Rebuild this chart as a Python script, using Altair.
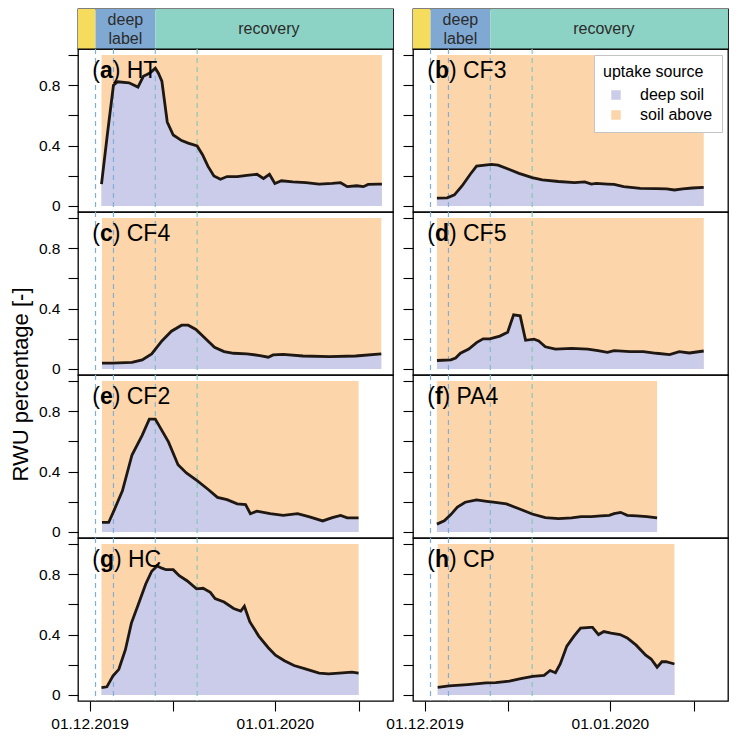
import altair as alt
import pandas as pd

FONT = "Liberation Sans"

# ---------------- data (days since 01.12.2019) ----------------
panel_letters = ["a", "b", "c", "d", "e", "f", "g", "h"]
panel_names = ["HT", "CF3", "CF4", "CF5", "CF2", "PA4", "HC", "CP"]

ht_day = [2.0, 3.0, 4.0, 4.7, 6.6, 8.1, 9.0, 10.1, 11.0, 11.5, 12.1, 13.0, 14.0, 15.4, 16.5,
          18.0, 18.9, 19.8, 20.8, 21.9, 23.0, 24.7, 26.3, 28.0, 29.1, 30.1, 31.0, 32.1, 34.0,
          36.2, 38.4, 40.6, 42.0, 43.1, 44.7, 45.8, 46.6, 48.3, 48.9]
ht_val = [0.145, 0.48, 0.80, 0.823, 0.816, 0.788, 0.859, 0.881, 0.913, 0.881, 0.827, 0.556,
          0.47, 0.433, 0.416, 0.398, 0.34, 0.264, 0.199, 0.177, 0.195, 0.195, 0.203, 0.21,
          0.182, 0.21, 0.149, 0.167, 0.16, 0.154, 0.145, 0.149, 0.154, 0.128, 0.134, 0.128,
          0.143, 0.145, 0.145]

cf3_day = [2.07, 3.8, 5.0, 6.3, 7.65, 8.7, 11.2, 12.3, 14.2, 15.8, 18.0, 19.7, 22.4, 25.1,
           26.8, 27.9, 28.7, 30.6, 31.7, 33.3, 36.1, 38.8, 40.5, 41.8, 43.2, 44.8, 46.7]
cf3_val = [0.052, 0.054, 0.074, 0.134, 0.21, 0.264, 0.275, 0.27, 0.242, 0.216, 0.188, 0.173,
           0.162, 0.154, 0.16, 0.145, 0.149, 0.145, 0.143, 0.128, 0.117, 0.115, 0.113, 0.106,
           0.113, 0.119, 0.123]

cf4_day = [2.08, 3.8, 7.1, 8.8, 10.4, 12.1, 13.7, 15.4, 16.5, 17.8, 19.2, 20.9, 22.5, 24.1,
           26.3, 28.5, 29.9, 30.7, 32.4, 35.7, 40.1, 44.5, 48.8]
cf4_val = [0.039, 0.039, 0.043, 0.06, 0.10, 0.186, 0.25, 0.29, 0.29, 0.262, 0.208, 0.143,
           0.115, 0.104, 0.10, 0.089, 0.078, 0.093, 0.097, 0.086, 0.082, 0.086, 0.10]

cf5_day = [2.08, 4.4, 5.2, 6.0, 7.4, 8.7, 9.8, 10.9, 12.6, 13.9, 14.9, 16.0, 16.9, 18.3, 19.1,
           20.2, 21.9, 24.6, 27.3, 29.0, 30.6, 31.7, 34.4, 36.6, 38.8, 41.0, 42.6, 44.3, 46.7]
cf5_val = [0.056, 0.06, 0.073, 0.104, 0.132, 0.175, 0.20, 0.20, 0.218, 0.244, 0.359, 0.352,
           0.19, 0.197, 0.186, 0.147, 0.132, 0.136, 0.132, 0.121, 0.11, 0.121, 0.115, 0.115,
           0.104, 0.095, 0.115, 0.106, 0.119]

cf2_day = [2.08, 3.2, 4.1, 5.5, 7.1, 8.8, 10.0, 11.0, 13.2, 14.8, 16.2, 18.1, 19.8, 21.4, 23.0,
           24.7, 26.1, 26.9, 28.0, 30.2, 32.4, 34.8, 36.8, 39.0, 40.6, 42.0, 43.1, 45.0]
cf2_val = [0.063, 0.063, 0.143, 0.272, 0.51, 0.64, 0.748, 0.748, 0.597, 0.445, 0.391, 0.337,
           0.283, 0.229, 0.214, 0.186, 0.182, 0.121, 0.138, 0.121, 0.11, 0.121, 0.10, 0.073,
           0.095, 0.11, 0.093, 0.093]

pa4_day = [2.07, 3.3, 4.4, 5.5, 6.8, 8.7, 10.4, 11.5, 13.7, 15.8, 18.0, 20.2, 22.4, 24.6, 26.2,
           27.9, 29.5, 30.9, 31.7, 32.8, 33.9, 35.5, 37.2, 38.9]
pa4_val = [0.052, 0.074, 0.115, 0.165, 0.197, 0.212, 0.203, 0.197, 0.186, 0.154, 0.119, 0.095,
           0.089, 0.093, 0.102, 0.102, 0.106, 0.11, 0.121, 0.13, 0.11, 0.106, 0.102, 0.093]

hc_day = [2.0, 2.9, 3.9, 4.9, 6.0, 7.0, 8.2, 9.4, 10.4, 11.3, 12.1, 12.8, 14.0, 15.0, 16.3,
          17.9, 19.0, 20.2, 21.0, 22.5, 24.1, 25.3, 25.9, 26.8, 28.3, 29.9, 31.1, 32.6, 34.2,
          36.1, 38.4, 40.0, 42.3, 43.9, 45.0]
hc_val = [0.048, 0.054, 0.125, 0.17, 0.30, 0.476, 0.605, 0.735, 0.82, 0.855, 0.84, 0.83, 0.83,
          0.79, 0.757, 0.703, 0.707, 0.68, 0.638, 0.616, 0.573, 0.556, 0.588, 0.486, 0.39,
          0.313, 0.264, 0.227, 0.195, 0.173, 0.145, 0.14, 0.147, 0.151, 0.145]

cp_day = [2.2, 4.1, 7.2, 10.3, 11.9, 14.2, 16.1, 18.1, 20.0, 21.0, 21.9, 22.7, 23.8, 25.0, 26.1,
          27.7, 28.1, 29.1, 30.0, 31.2, 32.7, 33.9, 35.4, 37.0, 37.9, 38.9, 39.7, 40.4, 41.8]
cp_val = [0.05, 0.06, 0.069, 0.08, 0.082, 0.091, 0.108, 0.123, 0.13, 0.162, 0.147, 0.205, 0.324,
          0.39, 0.443, 0.448, 0.448, 0.40, 0.42, 0.41, 0.40, 0.378, 0.33, 0.264, 0.238, 0.184,
          0.22, 0.22, 0.205]

DAYS = [ht_day, cf3_day, cf4_day, cf5_day, cf2_day, pa4_day, hc_day, cp_day]
VALS = [ht_val, cf3_val, cf4_val, cf5_val, cf2_val, pa4_val, hc_val, cp_val]

# events (dashed lines) and phases (top strip)
event_days = [1, 4, 11, 18]
event_colors = ["#7DAFD8", "#7DAFD8", "#86B8CF", "#86C8B4"]

X_DOMAIN = [-1.93, 50.76]
phase_start = [X_DOMAIN[0], 1, 11]
phase_end = [1, 11, X_DOMAIN[1]]
phase_colors = ["#F6DC5C", "#7FA9D3", "#8DD3C5"]
phase_labels = ["", "deep\nlabel", "recovery"]
phase_label_x = [0, 6, 30]

tick_days = [0, 14, 31, 45]
tick_labels = ["01.12.2019", "", "01.01.2020", ""]
y_ticks = [0, 0.2, 0.4, 0.6, 0.8, 1.0]
y_tick_labels = ["0", "", "0.4", "", "0.8", ""]

SOURCES = ["deep soil", "soil above"]
LAV = "#CBCBEA"
PEACH = "#FDD5AA"
LINE = "#1E1712"

# ---------------- layout ----------------
W = 315
H = 163
STRIP_H = 40
Y_DOMAIN = [-0.04, 1.04]
LABEL_X = 0.45
LABEL_Y = 0.85
LFS = 23
BOLD_W = {"a": 0.556, "b": 0.611, "c": 0.556, "d": 0.611, "e": 0.556, "f": 0.333,
          "g": 0.611, "h": 0.611}

xscale = alt.Scale(domain=X_DOMAIN, nice=False, zero=False)
yscale = alt.Scale(domain=Y_DOMAIN, nice=False, zero=False)


def expr_from(values, labels):
    parts = ""
    for v, l in zip(values, labels):
        parts += f"datum.value == {v} ? '{l}' : "
    return parts + "''"


def x_axis(bottom):
    if not bottom:
        return None
    return alt.Axis(values=tick_days, labelExpr=expr_from(tick_days, tick_labels),
                    tickSize=10, tickColor="black", tickWidth=1.1, domain=False, grid=False,
                    title=None, labelFont=FONT, labelFontSize=15.5, labelColor="black",
                    labelPadding=5, labelOverlap=False, labelFlush=False)


def y_axis(col, with_title):
    kw = dict(values=y_ticks, tickSize=10, tickColor="black", tickWidth=1.1, domain=False,
              grid=False, title=None)
    if col == 0:
        kw.update(labelExpr=expr_from(y_ticks, y_tick_labels), labelFont=FONT,
                  labelFontSize=15.5, labelColor="black", labelPadding=8, labelOverlap=False)
    else:
        kw.update(labels=False)
    if with_title:
        kw.update(title="RWU percentage [-]", titleFont=FONT, titleFontSize=22,
                  titleFontWeight="normal", titleColor="black", titleY=H + 9,
                  titlePadding=6)
    return alt.Axis(**kw)


ev_df = pd.DataFrame({"day": event_days, "color": event_colors})


def strip_chart():
    df = pd.DataFrame({"start": phase_start, "end": phase_end, "color": phase_colors,
                       "label": phase_labels, "mid": phase_label_x})
    rect = alt.Chart(df).mark_rect().encode(
        x=alt.X("start:Q", scale=xscale, axis=None), x2="end:Q",
        fill=alt.Fill("color:N", scale=None))
    one = alt.Chart(df).transform_filter(
        "datum.label != '' && indexof(datum.label, '\\n') < 0").mark_text(
        fontSize=16, font=FONT, color="#2b2b2b", baseline="middle").encode(
        x=alt.X("mid:Q", scale=xscale, axis=None), y=alt.value(STRIP_H / 2),
        text="label:N")
    two = alt.Chart(df).transform_filter("indexof(datum.label, '\\n') >= 0").mark_text(
        lineBreak="\n", lineHeight=19, fontSize=16, font=FONT, color="#2b2b2b",
        baseline="middle", dy=-9.5).encode(
        x=alt.X("mid:Q", scale=xscale, axis=None), y=alt.value(STRIP_H / 2),
        text="label:N")
    return alt.layer(rect, one, two).properties(width=W, height=STRIP_H)


def panel(idx, col, row):
    d = pd.DataFrame({"day": DAYS[idx], "val": VALS[idx]})
    d["zero"] = 0.0
    d["src"] = SOURCES[0]
    r = pd.DataFrame({"start": [DAYS[idx][0]], "end": [DAYS[idx][-1]], "lo": [0.0],
                      "hi": [1.0], "src": [SOURCES[1]]})
    xa = x_axis(row == 3)
    ya = y_axis(col, col == 0 and row == 1)

    def X(f):
        return alt.X(f, scale=xscale, axis=xa)

    def Y(f):
        return alt.Y(f, scale=yscale, axis=ya)

    if col == 1 and row == 0:
        color = alt.Color("src:N", scale=alt.Scale(domain=SOURCES, range=[LAV, PEACH]),
                          legend=alt.Legend(
                              title="uptake source", orient="top-right", offset=6,
                              fillColor="white", strokeColor="#c4c4c4", padding=9,
                              symbolType="square", symbolSize=90, symbolStrokeWidth=0,
                              symbolOffset=5, labelOffset=16,
                              labelFont=FONT, labelFontSize=16, labelColor="black",
                              titleFont=FONT, titleFontSize=16, titleFontWeight="normal",
                              titleColor="black", titlePadding=7, rowPadding=4))
        rect = alt.Chart(r).mark_rect(opacity=1).encode(
            x=X("start:Q"), x2="end:Q", y=Y("lo:Q"), y2="hi:Q", color=color)
        area = alt.Chart(d).mark_area(opacity=1).encode(
            x=X("day:Q"), y=Y("val:Q"), y2="zero:Q", color=color)
    else:
        rect = alt.Chart(r).mark_rect(opacity=1, color=PEACH).encode(
            x=X("start:Q"), x2="end:Q", y=Y("lo:Q"), y2="hi:Q")
        area = alt.Chart(d).mark_area(opacity=1, color=LAV).encode(
            x=X("day:Q"), y=Y("val:Q"), y2="zero:Q")

    rules = alt.Chart(ev_df).mark_rule(strokeDash=[5, 4], strokeWidth=1.2).encode(
        x=X("day:Q"), stroke=alt.Stroke("color:N", scale=None))
    line = alt.Chart(d).mark_line(color=LINE, strokeWidth=2.8).encode(
        x=X("day:Q"), y=Y("val:Q"))

    letter = panel_letters[idx]
    lab = pd.DataFrame({"x": [LABEL_X], "y": [LABEL_Y], "open": ["("],
                        "letter": [letter], "rest": [") " + panel_names[idx]]})
    base = alt.Chart(lab)
    t1 = base.mark_text(align="left", baseline="alphabetic", font=FONT, fontSize=LFS,
                        color="black").encode(x=X("x:Q"), y=Y("y:Q"), text="open:N")
    dx2 = 0.333 * LFS
    t2 = base.mark_text(align="left", baseline="alphabetic", font=FONT, fontSize=LFS,
                        fontWeight="bold", color="black", dx=dx2).encode(
        x=X("x:Q"), y=Y("y:Q"), text="letter:N")
    dx3 = dx2 + BOLD_W[letter] * LFS
    t3 = base.mark_text(align="left", baseline="alphabetic", font=FONT, fontSize=LFS,
                        color="black", dx=dx3).encode(x=X("x:Q"), y=Y("y:Q"), text="rest:N")
    return alt.layer(rect, area, rules, line, t1, t2, t3).properties(width=W, height=H)


cells = [strip_chart(), strip_chart()]
for row in range(4):
    for col in range(2):
        cells.append(panel(row * 2 + col, col, row))

chart = alt.concat(*cells, columns=2, spacing={"row": 0, "column": 20},
                   bounds="flush").resolve_scale(
    color="independent").resolve_legend(color="independent").properties(
    padding={"left": 0, "top": 0, "right": 1, "bottom": 0}
).configure(font=FONT).configure_view(stroke="black", strokeWidth=1.3)

chart.save("out.html", embed_options={"renderer": "svg", "actions": False})
